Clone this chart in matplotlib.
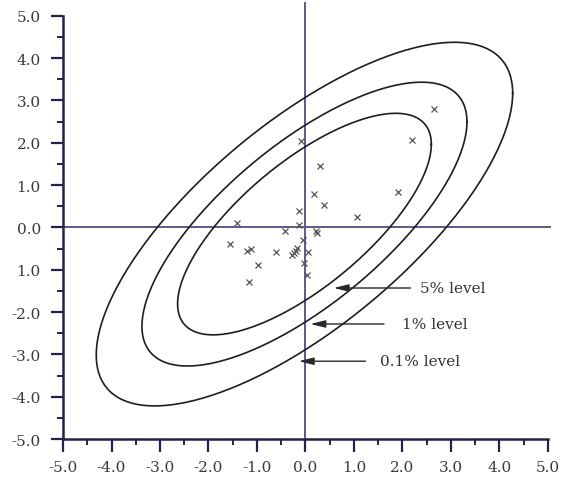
import numpy as np
import matplotlib.pyplot as plt
from matplotlib.ticker import MultipleLocator, FixedLocator, FixedFormatter

# Pontos da amostra
px = [2.66, 2.19, 0.30, 0.17, 0.39, 1.90, 1.07, -0.09, -0.14, -1.41,
      -0.43, 0.21, 0.24, -0.14, -1.55, -1.20, -1.12, -0.60, -0.17, -0.24,
      -0.28, 0.06, -0.05, -0.97, -1.17, 0.03, -0.03, -0.20]
py = [2.81, 2.07, 1.46, 0.79, 0.54, 0.83, 0.25, 2.05, 0.38, 0.10,
      -0.08, -0.08, -0.14, 0.07, -0.38, -0.55, -0.50, -0.58, -0.48, -0.60,
      -0.66, -0.58, -0.30, -0.89, -1.28, -1.12, -0.85, -0.55]

# Elipses de confiança: centro, correlação e escala (raio^2) de cada nível
centro = (-0.02, 0.08)
rho = 0.72
escalas = [6.85, 11.24, 18.45]
niveis = ['5% level', '1% level', '0.1% level']

# Setas: ponta, início e posição do texto
ponta_x = [0.58, 0.10, -0.14]
ponta_y = [-1.43, -2.28, -3.16]
cauda_x = [2.17, 1.62, 1.24]
texto_x = [2.36, 2.00, 1.54]

xticks = [-5, -4, -3, -2, -1, 0, 1, 2, 3, 4, 5]
xlabels = ['-5.0', '-4.0', '-3.0', '-2.0', '-1.0', '0.0', '1.0', '2.0', '3.0', '4.0', '5.0']
yticks = [-5, -4, -3, -2, -1, 0, 1, 2, 3, 4, 5]
ylabels = ['-5.0', '-4.0', '-3.0', '-2.0', '1.0', '0.0', '1.0', '2.0', '3.0', '4.0', '5.0']

plt.rcParams['font.family'] = 'DejaVu Serif'

fig = plt.figure(figsize=(5.63, 4.81), dpi=100)
ax = fig.add_axes([0.112, 0.085, 0.861, 0.880])
ax.set_xlim(-5, 5)
ax.set_ylim(-5, 5)

cor_eixo = '#23234a'
for lado in ['top', 'right']:
    ax.spines[lado].set_visible(False)
for lado in ['left', 'bottom']:
    ax.spines[lado].set_linewidth(1.8)
    ax.spines[lado].set_color(cor_eixo)

ax.xaxis.set_major_locator(FixedLocator(xticks))
ax.xaxis.set_major_formatter(FixedFormatter(xlabels))
ax.yaxis.set_major_locator(FixedLocator(yticks))
ax.yaxis.set_major_formatter(FixedFormatter(ylabels))
ax.xaxis.set_minor_locator(MultipleLocator(0.5))
ax.yaxis.set_minor_locator(MultipleLocator(0.5))
ax.tick_params(which='major', length=9, width=1.6, color=cor_eixo,
               labelsize=11, labelcolor='#3a3a3a', pad=6)
ax.tick_params(axis='y', which='major', pad=7)
ax.tick_params(which='minor', length=4.5, width=1.4, color=cor_eixo)

# eixos pela origem
ax.plot([-5, 5.05], [0, 0], color='#5c5c84', lw=1.4, clip_on=False, zorder=1)
ax.plot([0, 0], [-5, 5.3], color='#5c5c84', lw=1.4, clip_on=False, zorder=1)

# elipses
t = np.linspace(0, 2 * np.pi, 400)
S = np.array([[1.0, rho], [rho, 1.0]])
L = np.linalg.cholesky(S)
circ = np.vstack([np.cos(t), np.sin(t)])
for k in escalas:
    e = L @ circ * np.sqrt(k)
    ax.plot(e[0] + centro[0], e[1] + centro[1], color='#1e1e1e', lw=1.2, zorder=2)

ax.plot(px, py, linestyle='none', marker='x', markersize=5, mew=0.9,
        color='#555555', zorder=3)

for i in range(3):
    ax.annotate('', xy=(ponta_x[i], ponta_y[i]), xytext=(cauda_x[i], ponta_y[i]),
                arrowprops=dict(arrowstyle='-|>,head_length=0.9,head_width=0.22',
                                color='#2a2a2a', lw=1.0, shrinkA=0, shrinkB=0))
    ax.text(texto_x[i], ponta_y[i], niveis[i], fontsize=11, color='#333333',
            ha='left', va='center')

fig.savefig('out.png', dpi=100)
